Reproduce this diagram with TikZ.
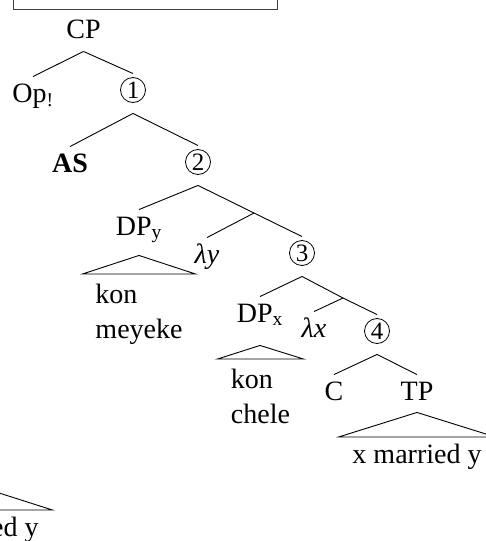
\documentclass[tikz,border=0pt]{standalone}
\usepackage{fontspec}
\setmainfont{Liberation Serif}
\begin{document}
\begin{tikzpicture}[x=1pt,y=-1pt,line width=0.9pt,
  font=\fontsize{28}{35}\selectfont,
  tn/.style={anchor=base,inner xsep=0pt,inner ysep=6pt,text height=19pt,text depth=7pt},
  circ/.style={circle,draw,line width=0.8pt,minimum size=25pt,inner sep=0pt,yshift=3.5pt},
  cn/.style={tn,text height=18pt,text depth=9pt,font=\fontsize{25}{28}\selectfont,label={[circ]center:{}}},
  leaf/.style={anchor=north,align=left,inner xsep=0pt,inner ysep=10pt}]
\useasboundingbox (0,0) rectangle (486,541);
\clip (0,0) rectangle (486,541);

% box at the top, cut by the edge
\node[draw,black!75,line width=1.2pt,minimum width=264pt,minimum height=40pt,anchor=south west] (hdr) at (13,10) {};

% tree
\node[tn] (cp)  at (83.5,38) {CP};
\node[tn] (op)  at (33,102)  {Op\textsubscript{!}};
\node[cn] (n1)  at (133,98)  {1};
\node[tn] (as)  at (70,172)  {\textbf{AS}};
\node[cn] (n2)  at (198,170) {2};
\node[tn] (dpy) at (139,235) {DP\textsubscript{y}};
\coordinate (b1) at (254,213);
\node[tn] (ly)  at (207,263) {\textit{λy}};
\node[cn] (n3)  at (302,261) {3};
\node[tn] (dpx) at (260,322) {DP\textsubscript{x}};
\coordinate (b2) at (343,298);
\node[tn] (lx)  at (314,337) {\textit{λx}};
\node[cn] (n4)  at (377,339) {4};
\node[tn] (c)   at (334,400) {C};
\node[tn] (tp)  at (417,400) {TP};

\node[leaf,minimum width=112pt] (kony) at (139,274)   {kon\\meyeke};
\node[leaf,minimum width=85pt]  (konx) at (260.5,359) {kon\\chele};
\node[leaf,minimum width=156pt,inner ysep=7pt] (xmy) at (417,437) {x married y};

\path
(cp.south) edge (op.north)
(cp.south) edge (n1.north)
(n1.south) edge (as.north)
(n1.south) edge (n2.north)
(n2.south) edge (dpy.north)
(n2.south) edge (b1)
(b1)       edge (ly.north)
(b1)       edge (n3.north)
(n3.south) edge (dpx.north)
(n3.south) edge (b2)
(b2)       edge (lx.north)
(b2)       edge (n4.north)
(n4.south) edge (c.north)
(n4.south) edge (tp.north)
;

% roofs
\draw ([yshift=-7pt]dpy.south)  -- (kony.north west) -- (kony.north east) -- cycle;
\draw ([yshift=-10pt]dpx.south) -- (konx.north west) -- (konx.north east) -- cycle;
\draw ([yshift=1pt]tp.south)    -- (xmy.north west)  -- (xmy.north east)  -- cycle;

% leftover of the same roof, bottom left
\begin{scope}[shift={(-443,73)}]
\coordinate (tp0) at (417,412);
\node[leaf,minimum width=156pt,inner ysep=7pt] (xmy0) at (417,437) {x married y};
\draw (tp0) -- (xmy0.north west) -- (xmy0.north east) -- cycle;
\end{scope}
\end{tikzpicture}
\end{document}
